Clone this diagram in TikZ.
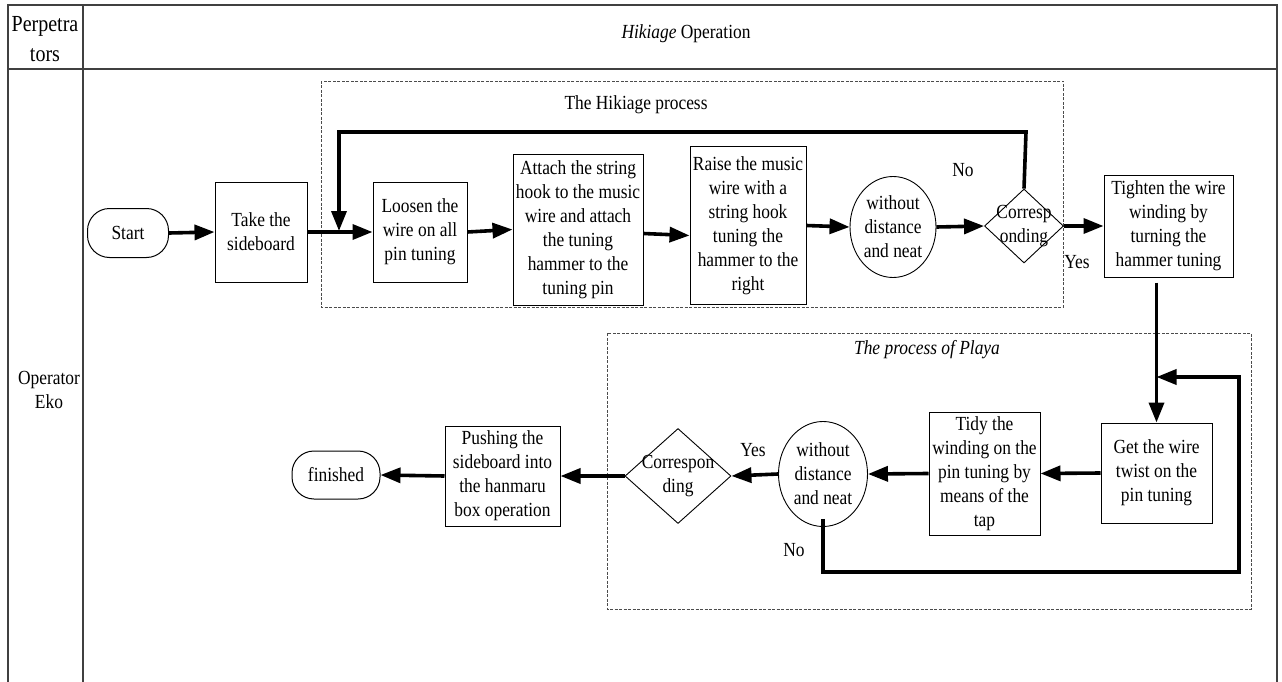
\documentclass[tikz,border=0pt]{standalone}
\usepackage{fontspec}
\setmainfont{Liberation Serif}[FakeStretch=0.87]
\usetikzlibrary{arrows.meta,shapes.geometric}
\begin{document}
\begin{tikzpicture}[x=1pt,y=-1pt,
  txt/.style={font=\fontsize{20}{24}\selectfont, align=center, inner sep=0pt},
  procbox/.style={txt, draw, line width=1pt},
  term/.style={txt, draw, line width=1pt, rounded corners=22pt},
  decision/.style={draw, diamond, line width=0.9pt, inner sep=0pt},
  check/.style={draw, ellipse, line width=0.9pt, inner sep=0pt},
  arr/.style={line width=3.6pt, -{Triangle[length=20pt,width=15pt]}},
  lane/.style={line width=1.2pt, draw=black!75},
  group/.style={draw=black!70, line width=0.8pt, dash pattern=on 3pt off 1.5pt}]

\useasboundingbox (0,0) rectangle (1282,682);

% swimlane table
\draw[lane] (8,682) -- (8,5) -- (1277,5) -- (1277,682);
\draw[lane] (8,69) -- (1277,69);
\draw[lane] (83,5) -- (83,682);
\node[txt, font=\fontsize{23}{30}\selectfont] (hdrA) at (45,39) {Perpetra\\tors};
\node[txt] (hdrB) at (686,34) {\textit{Hikiage} Operation};
\node[txt] (lane1) at (49,390) {Operator\\Eko};

% process groups
\draw[group] (321,81) rectangle (1063,307);
\node[txt] (g1) at (636,105) {The Hikiage process};
\draw[group] (607,333) rectangle (1251,609);
\node[txt] (g2) at (927,350) {\textit{The process of Playa}};

% upper row
\node[term, minimum width=81, minimum height=49] (start) at (128,233) {Start};
\node[procbox, minimum width=92, minimum height=100] (take) at (261,232) {Take the\\sideboard};
\node[procbox, minimum width=94, minimum height=100] (loosen) at (420,232) {Loosen the\\wire on all\\pin tuning};
\node[procbox, minimum width=130, minimum height=151] (attach) at (578,229.5) {Attach the string\\hook to the music\\wire and attach\\the tuning\\hammer to the\\tuning pin};
\node[procbox, minimum width=116, minimum height=157] (raise) at (748,225.5) {Raise the music\\wire with a\\string hook\\tuning the\\hammer to the\\right};
\node[check, minimum width=86, minimum height=101, label={[txt]center:without\\distance\\and neat}] (c1) at (893,227) {};
\node[decision, minimum width=79, minimum height=74, label={[txt]center:Corresp\\onding}] (d1) at (1024,226) {};
\node[procbox, minimum width=129, minimum height=102] (tight) at (1168.5,226) {Tighten the wire\\winding by\\turning the\\hammer tuning};

% lower row
\node[procbox, minimum width=111, minimum height=100] (get) at (1156.5,473) {Get the wire\\twist on the\\pin tuning};
\node[procbox, minimum width=111, minimum height=123] (tidy) at (984.5,473.5) {Tidy the\\winding on the\\pin tuning by\\means of the\\tap};
\node[check, minimum width=89, minimum height=105, label={[txt]center:without\\distance\\and neat}] (c2) at (823,474) {};
\node[decision, minimum width=106, minimum height=95, label={[txt]center:Correspon\\ding}] (d2) at (678,476) {};
\node[procbox, minimum width=115, minimum height=100] (push) at (502.5,476) {Pushing the\\sideboard into\\the hanmaru\\box operation};
\node[term, minimum width=88, minimum height=48] (fin) at (336,475) {finished};

% decision labels
\node[txt] (no1) at (963,170) {No};
\node[txt] (yes1) at (1077,262) {Yes};
\node[txt] (yes2) at (753,450) {Yes};
\node[txt] (no2) at (794,550) {No};

% loop helper points
\coordinate (j1) at (339,231);
\coordinate (topR) at (1026,132);
\coordinate (loopB) at (1239,572);
\coordinate (loopT) at (1239,377);

% connectors, upper row
\draw[arr] (start.east) -- (take.west);
\draw[arr] (take.east) -- (loosen.west);
\draw[arr] (loosen.east) -- (attach.west);
\draw[arr] ([yshift=-4pt]attach.east) -- ([yshift=-10pt]raise.west);
\draw[arr] (raise.east) -- (c1.west);
\draw[arr] (c1.east) -- (d1.west);
\draw[arr] (d1.east) -- (tight.west |- d1.east);
\draw[arr] (d1.north) -- (topR) -| (j1);

% connectors, lower row
\draw[arr] ([yshift=-5pt]tight.south -| get.north) -- (get.north);
\draw[arr] (get.west) -- (tidy.west -| tidy.east);
\draw[arr] (tidy.west) -- (c2.east);
\draw[arr] (c2.west) -- (d2.east);
\draw[arr] (d2.west) -- (push.east);
\draw[arr] (push.west) -- (fin.east);
\draw[arr] ([yshift=8pt]c2.south) |- (loopB) -- (loopT) -- (loopT -| get.north);
\end{tikzpicture}
\end{document}
